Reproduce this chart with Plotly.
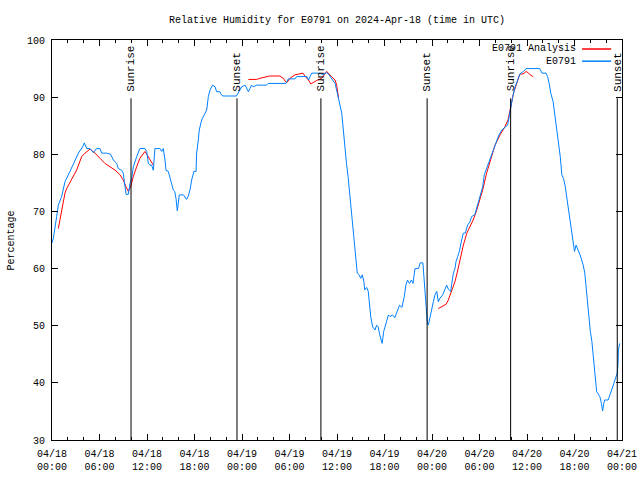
import pandas as pd
import plotly.graph_objects as go

BASE = pd.Timestamp("2024-04-18 00:00")

# Observations (hours after 04/18 00:00 UTC, relative humidity %)
obs_hours = [0.0, 0.17, 0.59, 0.8, 1.22, 1.64, 2.27, 2.69, 3.33, 3.87, 4.08, 4.38, 4.8, 5.22, 5.64, 6.06,
             6.27, 6.9, 7.41, 7.75, 8.17, 8.38, 8.8, 9.0, 9.22, 9.35, 9.64, 9.85, 10.07, 10.27, 10.7, 11.1,
             11.75, 11.96, 12.17, 12.38, 12.59, 12.8, 13.0, 13.64, 13.86, 14.06, 14.27, 14.4, 14.69, 14.9,
             15.1, 15.32, 15.5, 15.66, 15.83, 16.08, 16.6, 17.0, 17.2, 17.43, 17.64, 17.93, 18.2, 18.27,
             18.48, 18.6, 18.9, 19.3, 19.54, 19.75, 19.96, 20.3, 20.6, 20.8, 21.2, 21.4, 21.6, 23.3, 23.66,
             23.96, 24.4, 24.6, 24.8, 25.0, 25.2, 25.4, 25.86, 27.1, 27.3, 29.56, 29.85, 30.7, 30.9, 32.2,
             32.4, 32.8, 33.85, 34.2, 34.7, 35.0, 35.3, 35.75, 36.04, 36.3, 36.6, 36.8, 37.0, 37.2, 37.4,
             37.6, 37.86, 38.06, 38.27, 38.4, 38.56, 38.8, 39.0, 39.2, 39.4, 39.5, 39.75, 39.95, 40.1,
             40.26, 40.5, 40.8, 41.0, 41.2, 41.4, 41.7, 41.9, 42.2, 42.5, 42.7, 43.0, 43.3, 43.6, 43.9,
             44.2, 44.5, 44.7, 44.9, 45.15, 45.4, 45.6, 45.85, 46.3, 46.5, 46.85, 47.0, 47.1, 47.24, 47.4,
             47.54, 47.75, 47.96, 48.17, 48.38, 48.6, 48.8, 49.0, 49.35, 49.55, 49.85, 50.06, 50.36, 50.5,
             50.7, 50.9, 51.03, 51.25, 51.45, 51.75, 51.96, 52.2, 52.5, 52.8, 53.0, 53.4, 53.7, 54.06,
             54.4, 54.6, 54.9, 55.3, 55.7, 56.1, 56.4, 56.8, 57.2, 57.55, 57.75, 57.94, 58.2, 58.5, 58.8,
             59.1, 59.5, 59.9, 61.6, 61.9, 62.4, 62.6, 62.8, 63.0, 63.3, 63.5, 63.75, 63.95, 64.2, 64.4,
             64.6, 64.8, 65.0, 65.2, 65.4, 65.6, 65.85, 66.0, 66.2, 66.5, 66.7, 66.9, 67.1, 67.3, 67.45,
             67.6, 67.75, 67.9, 68.0, 68.2, 68.3, 68.4, 68.5, 68.6, 68.8, 69.0, 69.2, 69.4, 69.55, 69.7,
             69.8, 70.25, 70.5, 70.7, 70.9, 71.1, 71.3, 71.4, 71.5, 71.55, 71.7]
obs_rh = [64.5, 65.3, 69.1, 71.1, 72.6, 75.2, 77.0, 78.4, 80.2, 81.3, 82.0, 81.0, 81.0, 80.3, 81.0, 81.0,
          80.2, 80.2, 80.0, 79.0, 78.4, 77.5, 77.2, 76.7, 74.6, 73.0, 73.0, 74.9, 75.8, 77.8, 79.6, 81.0,
          81.0, 80.5, 78.4, 78.1, 78.1, 77.2, 81.0, 81.0, 80.5, 81.0, 79.0, 77.2, 77.0, 75.8,
          75.2, 73.75, 73.5, 72.3, 70.1, 72.9, 72.9, 72.1, 72.6, 73.75, 75.5, 77.0, 77.0, 80.2,
          82.5, 84.25, 86.0, 87.2, 87.75, 90.1, 91.25, 92.1, 91.8, 90.95, 90.95, 90.4, 90.2, 90.2, 90.95,
          91.8, 92.1, 91.5, 90.95, 91.5, 92.1, 91.8, 92.1, 92.1, 92.4, 92.4, 93.2, 93.2, 93.6, 93.6,
          93.0, 94.2, 94.2, 93.9, 94.3, 93.9, 93.3, 92.4, 90.7, 89.2, 87.2, 84.25, 80.75, 78.4, 76.1,
          73.2, 70.25, 67.3, 64.7, 62.1, 59.2, 58.9, 58.3, 58.9, 57.7, 56.25, 56.7, 56.0, 53.3,
          51.6, 49.8, 49.25, 50.1, 49.8, 48.4, 46.9, 49.0, 50.7, 51.9, 51.6, 51.9, 51.4, 52.5, 53.6,
          53.2, 55.1, 57.1, 58.0, 57.4, 58.0, 57.4, 60.0, 60.0, 61.0, 61.0, 58.3, 55.7, 52.5, 50.7,
          50.1, 51.6, 53.0, 54.2, 55.4, 56.0, 54.2, 54.8, 55.4, 56.0, 57.1, 56.4, 56.0, 57.4,
          59.2, 60.0, 61.2, 62.1, 63.0, 65.0, 66.2, 66.2, 67.6, 68.2, 69.1, 69.4, 70.8, 72.6,
          74.3, 76.4, 77.5, 79.0, 80.75, 82.2, 83.2, 84.25, 84.8, 85.1, 86.6, 88.3, 90.1, 91.8, 93.0,
          94.05, 94.45, 95.0, 95.0, 94.2, 94.2, 93.6, 92.4, 90.7, 89.2, 87.2, 84.5, 81.9, 79.6, 76.4,
          75.8, 74.6, 72.6, 70.8, 69.1, 67.3, 64.1, 63.0, 64.1, 63.25, 62.4, 61.5, 60.6, 59.2, 56.8,
          55.1, 52.75, 51.0, 49.0, 47.2, 45.75, 44.0, 42.0, 40.2, 38.45, 38.05, 37.6, 36.4, 35.1, 36.4,
          37.0, 37.0, 37.9, 38.75, 39.6, 40.5, 41.4, 41.7, 43.4, 45.75, 46.9]

# Analysis (None = gap)
ana_hours = [0.8, 1.22, 1.64, 1.85, 2.48, 3.12, 3.75, 4.17, 4.8, 5.43, 6.06, 6.69, 7.33, 7.96, 8.6, 9.0,
             9.35, 9.64, 9.94, 10.27, 10.69, 11.1, 11.75, 12.17, 12.8, None,
             24.8, 25.86, 26.27, 26.9, 27.5, 28.8, 29.2, 29.64, 30.06, 30.7, 31.7, 32.0, 32.4, 32.7, 33.4,
             34.06, 34.7, 35.3, 35.75, 35.96, 36.2, None,
             48.8, 49.43, 49.77, 50.06, 50.5, 50.9, 51.2, 51.5, 51.96, 52.4, 52.8, 53.2, 53.6, 54.06, 54.4,
             54.9, 55.3, 55.96, 56.6, 57.2, 57.6, 57.9, 58.3, 58.7, 59.1, 59.5, 59.9, 60.2, 60.4, 60.75]
ana_rh = [67.0, 70.25, 73.2, 74.0, 75.5, 77.25, 79.6, 80.2, 80.9, 80.2, 79.3, 78.4, 77.8, 77.25, 76.4, 75.5,
          74.3, 73.5, 74.3, 76.1, 77.8, 79.3, 80.5, 79.6, 78.1, None,
          93.1, 93.1, 93.3, 93.5, 93.7, 93.7, 93.3, 92.5, 93.3, 93.9, 94.2, 93.6, 93.0, 92.3, 92.9,
          93.3, 94.5, 93.6, 93.0, 92.1, 89.8, None,
          53.0, 53.4, 53.75, 54.5, 56.0, 57.7, 59.4, 61.5, 64.1, 66.2, 67.3, 68.5, 70.0, 72.0, 73.75,
          76.7, 78.4, 81.6, 83.4, 84.8, 86.0, 88.3, 90.7, 92.4, 94.05, 94.05, 94.5, 94.2, 93.9, 93.6]

# Sun events
event_times = ["2024-04-18 09:59", "2024-04-18 23:22", "2024-04-19 09:58",
               "2024-04-19 23:23", "2024-04-20 09:56", "2024-04-20 23:24"]
event_names = ["Sunrise", "Sunset", "Sunrise", "Sunset", "Sunrise", "Sunset"]

y_ticks = [30, 40, 50, 60, 70, 80, 90, 100]

FONT = "Liberation Mono"
FS = 10
RED = "#ff0000"
BLUE = "#0080ff"

W, H = 640, 480


def to_time(hours):
    return [None if h is None else BASE + pd.Timedelta(hours=h) for h in hours]


fig = go.Figure()
fig.add_trace(go.Scatter(x=to_time(ana_hours), y=ana_rh, mode="lines",
                         line=dict(color=RED, width=1), name="E0791 Analysis",
                         connectgaps=False, showlegend=False))
fig.add_trace(go.Scatter(x=to_time(obs_hours), y=obs_rh, mode="lines",
                         line=dict(color=BLUE, width=1), name="E0791",
                         showlegend=False))

shapes = []
annotations = []
for t, name in zip(event_times, event_names):
    shapes.append(dict(type="line", xref="x", yref="y", x0=t, x1=t, y0=30, y1=89.8,
                       line=dict(color="black", width=1)))
    annotations.append(dict(x=t, y=90.6, xref="x", yref="y", text=name, textangle=-90,
                            showarrow=False, xanchor="center", yanchor="bottom",
                            font=dict(family=FONT, size=FS + 1, color="black")))

# legend (gnuplot style: text then sample)
legend_items = [("E0791 Analysis", RED, 0.9775), ("E0791", BLUE, 0.947)]
for label, color, yp in legend_items:
    annotations.append(dict(x=0.923, y=yp, xref="paper", yref="paper", text=label,
                            showarrow=False, xanchor="right", yanchor="middle",
                            font=dict(family=FONT, size=FS, color="black")))
    shapes.append(dict(type="line", xref="paper", yref="paper", x0=0.93, x1=0.981, y0=yp, y1=yp,
                       line=dict(color=color, width=1.5)))

annotations.append(dict(x=-0.0825, y=0.5, xref="paper", yref="paper", text="Percentage",
                        textangle=-90, showarrow=False, xanchor="left", yanchor="middle",
                        borderpad=0,
                        font=dict(family=FONT, size=FS, color="black")))

fig.update_layout(
    width=W, height=H,
    margin=dict(l=52, r=18, t=40, b=40, autoexpand=False),
    paper_bgcolor="white", plot_bgcolor="white",
    font=dict(family=FONT, size=FS, color="black"),
    title=dict(text="Relative Humidity for E0791 on 2024-Apr-18 (time in UTC)",
               x=0.5, xref="paper", xanchor="center", y=1 - 19 / H, yanchor="middle",
               font=dict(family=FONT, size=FS, color="black")),
    shapes=shapes, annotations=annotations,
    showlegend=False,
)
fig.update_xaxes(type="date", range=["2024-04-18 00:00", "2024-04-21 00:00"],
                 tick0="2024-04-18 00:00", dtick=6 * 3600 * 1000,
                 tickformat="%m/%d<br>%H:%M", automargin=False,
                 ticks="inside", ticklen=6, tickcolor="black",
                 minor=dict(dtick=2 * 3600 * 1000, ticks="inside", ticklen=3, tickcolor="black"),
                 showline=True, linecolor="black", linewidth=1, mirror="ticks",
                 showgrid=False, zeroline=False, ticklabelstandoff=4,
                 tickfont=dict(family=FONT, size=FS, color="black"))
fig.update_yaxes(range=[30, 100], tickvals=y_ticks, automargin=False,
                 ticks="inside", ticklen=6, tickcolor="black",
                 showline=True, linecolor="black", linewidth=1, mirror="ticks",
                 showgrid=False, zeroline=False, ticklabelstandoff=4,
                 tickfont=dict(family=FONT, size=FS, color="black"))

fig.write_html(
    "out.html",
    config={"displayModeBar": False, "staticPlot": True},
    post_script=("document.documentElement.style.overflow='hidden';"
                 "document.body.style.margin='0';document.body.style.overflow='hidden';"),
)
